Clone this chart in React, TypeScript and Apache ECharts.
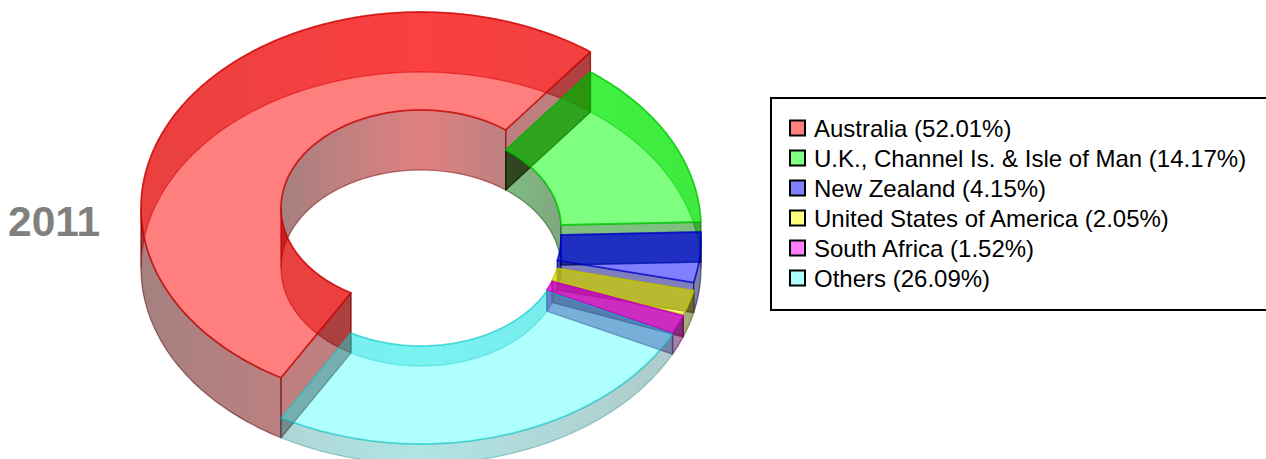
import React, { useEffect, useRef } from "react";
import * as echarts from "echarts";

const categories = ["Australia", "U.K., Channel Is. & Isle of Man", "New Zealand", "United States of America", "South Africa", "Others"];
const shares = [52.01, 14.17, 4.15, 2.05, 1.52, 26.09];
const sliceHeights = [60, 40, 30, 22, 21, 20];
const hues = [[255, 0, 0], [0, 255, 0], [0, 0, 255], [255, 255, 0], [255, 0, 255], [0, 255, 255]];
const alphas = [0.5, 0.5, 0.5, 0.5, 0.5, 0.31];
const sideAlphas = [0.5, 0.5, 0.5, 0.5, 0.5, 0.1];
const startSideShade = [0.5, 0.08, 0.55, 0.4, 0.5, 1];
const endSideShade = [0.5, 0.5, 0.5, 0.4, 0.5, 1];
const swatches = ["#ff8080", "#80ff80", "#8080ff", "#ffff80", "#ff80ff", "#b0ffff"];
const yearLabel = "2011";

const CX = 421, CY = 268, R = 280, RI = 140, TILT = 0.7, START = 210;
const rad = (d: number) => (d * Math.PI) / 180;
const pt = (r: number, t: number, e: number) => [CX + r * Math.cos(rad(t)), CY + TILT * r * Math.sin(rad(t)) - e];
const rgba = (c: number[], k: number, a: number) => `rgba(${Math.round(c[0] * k)},${Math.round(c[1] * k)},${Math.round(c[2] * k)},${a})`;

function arc(t1: number, t2: number) {
  const out: number[] = [];
  const n = Math.max(2, Math.ceil(Math.abs(t2 - t1)));
  for (let i = 0; i <= n; i++) out.push(t1 + ((t2 - t1) * i) / n);
  return out;
}
function wallK(t: number, outer: boolean) {
  const s = Math.sin(rad(t));
  const c = 1 - Math.abs(Math.cos(rad(t)));
  if (outer) return s > 0 ? 0.3 + 0.36 * c : 0.66 + 0.26 * c;
  return s < 0 ? 0.3 + 0.46 * c : 0.65 + 0.12 * c;
}
function wall(r: number, t1: number, t2: number, h: number, c: number[], a: number, outer: boolean) {
  const ts = arc(t1, t2);
  const pts = [...ts.map((t) => pt(r, t, h)), ...ts.slice().reverse().map((t) => pt(r, t, 0))];
  const xs = ts.map((t) => pt(r, t, 0)[0]);
  const xmin = Math.min(...xs), xmax = Math.max(...xs), span = Math.max(xmax - xmin, 0.001);
  const stops = ts
    .filter((_, i) => i % 6 === 0 || i === ts.length - 1)
    .map((t) => ({ offset: (pt(r, t, 0)[0] - xmin) / span, color: rgba(c, wallK(t, outer), a) }))
    .sort((p, q) => p.offset - q.offset);
  const mid = wallK((t1 + t2) / 2, outer);
  return {
    type: "polygon",
    shape: { points: pts },
    style: { fill: new echarts.graphic.LinearGradient(0, 0, 1, 0, stops), stroke: rgba(c, mid * 0.85, a), lineWidth: 1.3, lineJoin: "round" },
  };
}
function walls(r: number, t1: number, t2: number, h: number, c: number[], a: number, outer: boolean) {
  const cuts = [t1];
  for (let m = Math.ceil(t1 / 180) * 180; m < t2; m += 180) if (m > t1) cuts.push(m);
  cuts.push(t2);
  const res: any[] = [];
  for (let i = 0; i < cuts.length - 1; i++) res.push(wall(r, cuts[i], cuts[i + 1], h, c, a, outer));
  return res;
}
function side(t: number, h: number, c: number[], a: number, k: number) {
  return {
    type: "polygon",
    shape: { points: [pt(R, t, h), pt(RI, t, h), pt(RI, t, 0), pt(R, t, 0)] },
    style: { fill: rgba(c, k, a), stroke: rgba(c, Math.min(k, 0.5) * 0.9, a), lineWidth: 1.3, lineJoin: "round" },
  };
}
function topFace(t1: number, t2: number, h: number, c: number[], a: number) {
  const ts = arc(t1, t2);
  const pts = [...ts.map((t) => pt(R, t, h)), ...ts.slice().reverse().map((t) => pt(RI, t, h))];
  return {
    type: "polygon",
    shape: { points: pts },
    style: { fill: rgba(c, 1, a), stroke: rgba(c, 0.82, a + 0.12), lineWidth: 1.8, lineJoin: "round" },
  };
}

export default function App() {
  const ref = useRef<HTMLDivElement>(null);
  useEffect(() => {
    const chart = echarts.init(ref.current!, undefined, { renderer: "svg" });
    let acc = 0;
    const names = categories.map((c, i) => `${c} (${shares[i].toFixed(2)}%)`);
    const series = categories.map((_, i) => {
      const startShare = acc;
      acc += shares[i];
      return {
        type: "custom",
        name: names[i],
        coordinateSystem: "none",
        silent: true,
        z: i + 1,
        itemStyle: { color: swatches[i] },
        data: [[shares[i], sliceHeights[i], startShare]],
        renderItem: (_p: any, api: any) => {
          const share = api.value(0), h = api.value(1), from = api.value(2);
          const t1 = START - 90 + (from / 100) * 360;
          const t2 = t1 + (share / 100) * 360;
          const c = hues[i], a = alphas[i];
          return {
            type: "group",
            children: [
              ...walls(R, t1, t2, h, c, a, true),
              ...walls(RI, t1, t2, h, c, a, false),
              side(t1, h, c, sideAlphas[i], startSideShade[i]),
              side(t2, h, c, sideAlphas[i], endSideShade[i]),
              topFace(t1, t2, h, c, a),
            ],
          };
        },
      };
    });
    chart.setOption({
      animation: false,
      title: {
        text: yearLabel, left: 8, top: 200, padding: 0,
        textStyle: { color: "#808080", fontFamily: "Liberation Sans", fontWeight: "bold", fontSize: 42.5 },
      },
      legend: {
        orient: "vertical", left: 771, top: 98, selectedMode: false,
        padding: [18, 40, 20, 18], itemGap: 6, itemWidth: 15, itemHeight: 15,
        borderColor: "#000", borderWidth: 2, backgroundColor: "#fff",
        icon: "rect",
        itemStyle: { borderColor: "#000", borderWidth: 2 },
        textStyle: { color: "#000", fontFamily: "Liberation Sans", fontSize: 24, padding: [0, 0, 0, 4] },
        data: names,
      },
      series,
    });
    return () => chart.dispose();
  }, []);
  return <div ref={ref} style={{ position: "absolute", left: 0, top: 0, width: 1266, height: 459 }} />;
}
